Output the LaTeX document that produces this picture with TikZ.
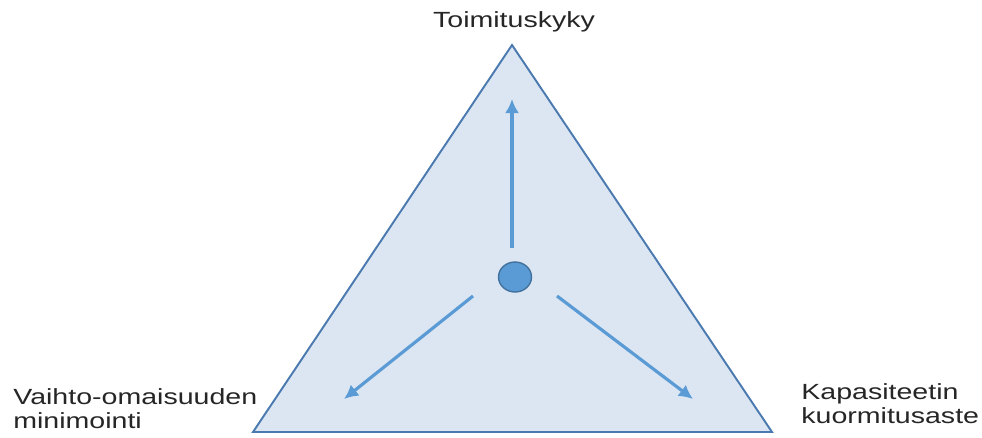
\documentclass[tikz,border=0pt]{standalone}
\usepackage{fontspec}
\setmainfont{Liberation Sans}[FakeStretch=1.3]
\usepackage{xcolor}
\usepackage{tikz}
\usetikzlibrary{shapes.geometric, arrows.meta, positioning}

\definecolor{triFill}{HTML}{DCE6F2}
\definecolor{triEdge}{HTML}{4A7AAF}
\definecolor{arrowBlue}{HTML}{5B9BD5}
\definecolor{dotEdge}{HTML}{41719C}

\begin{document}
\begin{tikzpicture}[x=0.02cm, y=-0.02cm]
    % Define styles
    \tikzset{
        label/.style={inner sep=0pt, font=\fontsize{12.5}{13.2}\selectfont, text=black!85, align=left},
        triangle/.style={draw=triEdge, fill=triFill, line width=1.1pt, line join=miter},
        hub/.style={ellipse, draw=dotEdge, fill=arrowBlue, line width=0.8pt, minimum width=0.66cm, minimum height=0.6cm, inner sep=0pt},
        push/.style={draw=arrowBlue, line width=1.8pt, -{Latex[length=8pt, width=8pt]}}
    }
    \useasboundingbox (0,0) rectangle (982,437);

    % Corners
    \coordinate (top) at (512,45);
    \coordinate (left) at (253,432);
    \coordinate (right) at (772,432);
    \draw[triangle] (top) -- (left) -- (right) -- cycle;

    % Nodes
    \node[hub] (center) at (515,277) {};
    \coordinate (upstart) at (512,248);
    \coordinate (upend) at (512,99);
    \coordinate (leftstart) at (473,296);
    \coordinate (leftend) at (344,399);
    \coordinate (rightstart) at (557,296);
    \coordinate (rightend) at (693,399);

    \node[label, anchor=base] (delivery) at (514,27) {Toimituskyky};
    \node[label, anchor=base west] (inventory) at (13,428) {Vaihto-omaisuuden\\minimointi};
    \node[label, anchor=base west] (capacity) at (801,423) {Kapasiteetin\\kuormitusaste};

    % Arrows
    \draw[push] (upstart) -- (upend);
    \draw[push] (leftstart) -- (leftend);
    \draw[push] (rightstart) -- (rightend);
\end{tikzpicture}
\end{document}
